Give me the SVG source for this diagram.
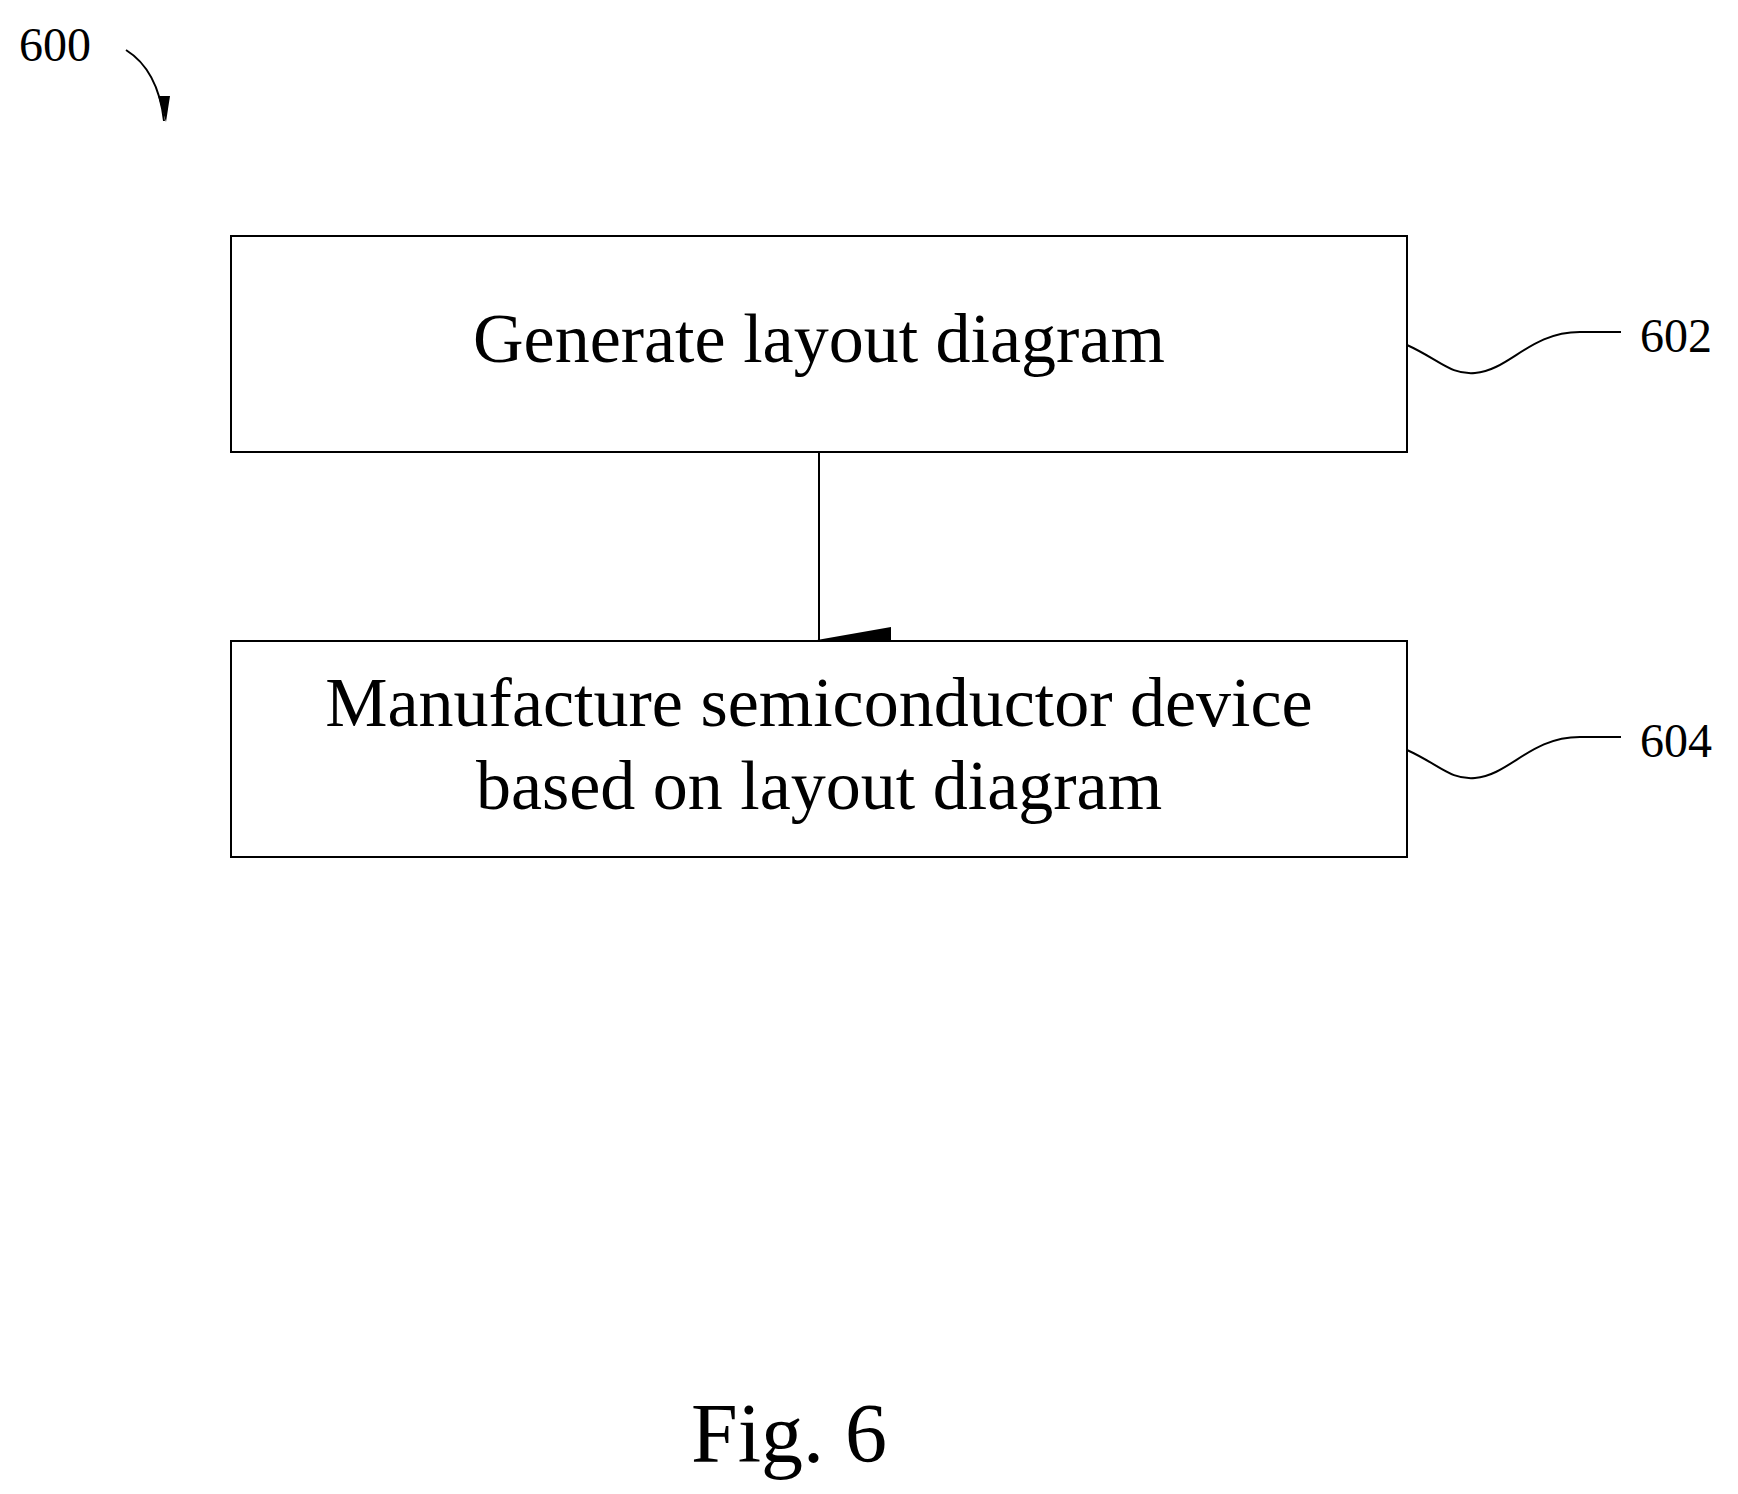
<svg xmlns="http://www.w3.org/2000/svg" width="1738" height="1494" viewBox="0 0 1738 1494">
<style>
text{font-family:"Liberation Serif","Times New Roman",serif;fill:#000}
.box{fill:#fff;stroke:#000;stroke-width:2}
.ln{fill:none;stroke:#000;stroke-width:2}
.main{font-size:70px;text-anchor:middle}
.lbl{font-size:48px}
</style>
<defs>
<marker id="ah" markerWidth="26" markerHeight="74" refX="13" refY="72" orient="auto" markerUnits="userSpaceOnUse" viewBox="0 0 26 74">
<path d="M0,0 L26,0 L13,74 Z" fill="#000"/>
</marker>
<marker id="ah2" markerWidth="14" markerHeight="36" refX="7" refY="34" orient="auto-start-reverse" markerUnits="userSpaceOnUse" viewBox="0 0 14 36">
<path d="M0,0 L14,0 L7,36 Z" fill="#000"/>
</marker>
</defs>
<rect width="1738" height="1494" fill="#fff"/>
<g id="connectors">
<line class="ln" x1="819" y1="452" x2="819" y2="640" marker-end="url(#ah)" transform="rotate(0)"/>
</g>
<g id="n600">
<text class="lbl" x="19" y="61">600</text>
<path class="ln" d="M126,50 Q158,70 164,121"/>
<path d="M158,96 L170,96 L166,122 Z" fill="#000"/>
</g>
<g id="n602">
<rect class="box" x="231" y="236" width="1176" height="216"/>
<text class="main" x="819" y="362">Generate layout diagram</text>
<path class="ln" d="M1407,345 C1440,360 1450,375 1475,373 C1510,370 1530,332 1580,332 L1621,332"/>
<text class="lbl" x="1640" y="352">602</text>
</g>
<g id="n604">
<rect class="box" x="231" y="641" width="1176" height="216"/>
<text class="main" x="819" y="726">Manufacture semiconductor device</text>
<text class="main" x="819" y="809">based on layout diagram</text>
<path class="ln" d="M1407,750 C1440,765 1450,780 1475,778 C1510,775 1530,737 1580,737 L1621,737"/>
<text class="lbl" x="1640" y="757">604</text>
</g>
<text x="691" y="1462" style="font-size:84px">Fig. 6</text>
</svg>
